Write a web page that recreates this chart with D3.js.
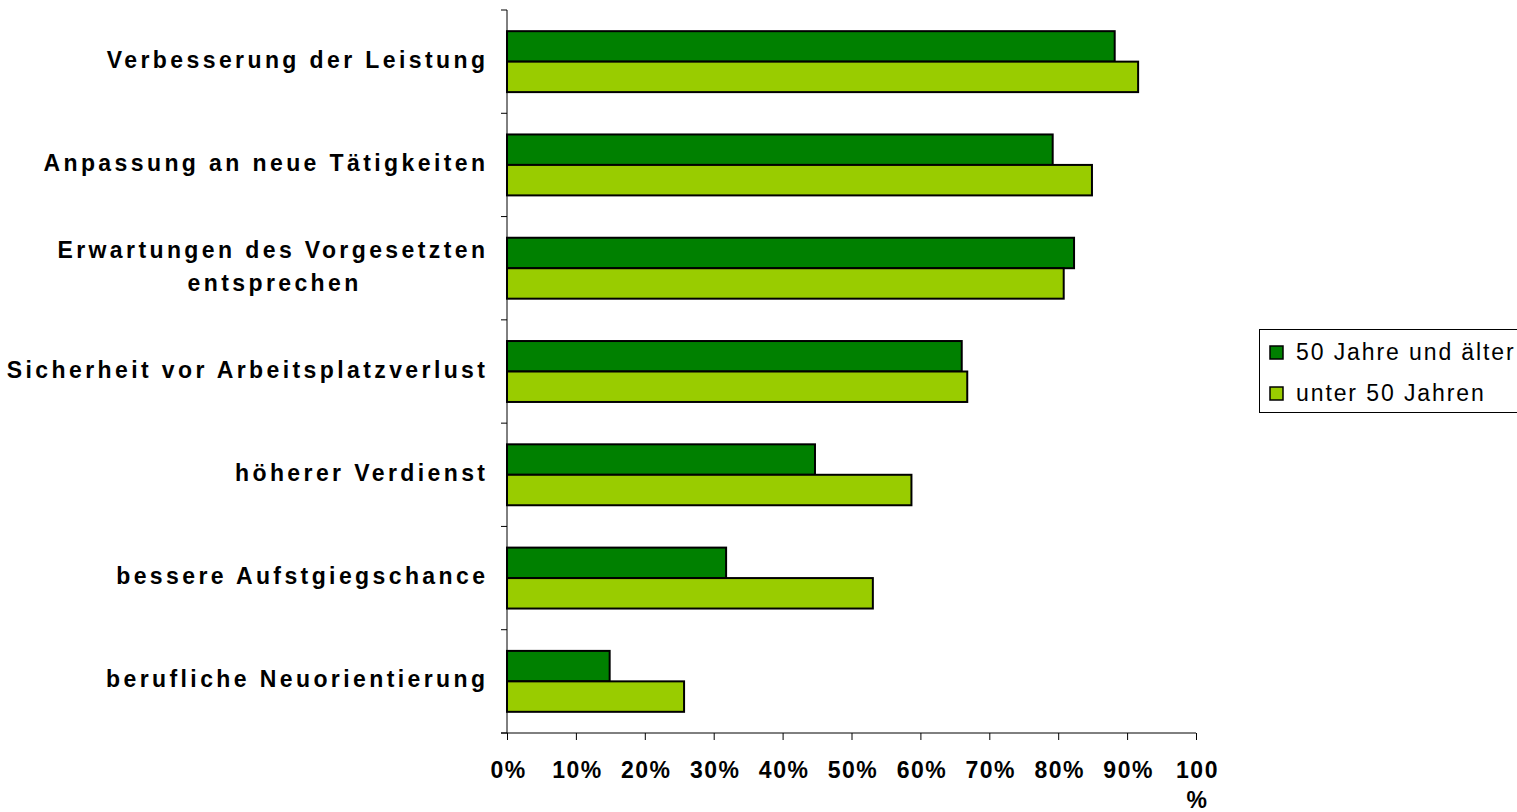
<!DOCTYPE html>
<html>
<head>
<meta charset="utf-8">
<script src="https://cdn.jsdelivr.net/npm/d3@7"></script>
<style>
  html, body { margin: 0; padding: 0; background: #fff; }
  svg { display: block; }
</style>
</head>
<body>
<svg id="chart" width="1517" height="812"></svg>
<script>
// Motive für Weiterbildung, nach Altersgruppe (Anteil in %)
const categories = [
  ["Verbesserung der Leistung"],
  ["Anpassung an neue Tätigkeiten"],
  ["Erwartungen des Vorgesetzten", "entsprechen"],
  ["Sicherheit vor Arbeitsplatzverlust"],
  ["höherer Verdienst"],
  ["bessere Aufstgiegschance"],
  ["berufliche Neuorientierung"]
];
const seriesNames = ["50 Jahre und älter", "unter 50 Jahren"];
const valuesOlder   = [88.2, 79.2, 82.3, 66.0, 44.7, 31.8, 14.9];
const valuesYounger = [91.6, 84.9, 80.8, 66.8, 58.7, 53.1, 25.7];
const xTicks = [0, 10, 20, 30, 40, 50, 60, 70, 80, 90, 100];
const xTickLabels = ["0%", "10%", "20%", "30%", "40%", "50%", "60%", "70%", "80%", "90%", "100%"];
const colors = ["#008000", "#99CC00"];

const FONT = "'Liberation Sans', Arial, Helvetica, sans-serif";
const svg = d3.select("#chart");

const plot = { left: 507, right: 1196, top: 10, bottom: 733 };

const x = d3.scaleLinear().domain([0, 100]).range([plot.left, plot.right]);
const y = d3.scaleBand()
  .domain(d3.range(categories.length))
  .range([plot.top, plot.bottom])
  .paddingInner(0).paddingOuter(0);
const inner = d3.scaleBand()
  .domain([0, 1])
  .range([0, y.bandwidth()])
  .paddingOuter(0.695).paddingInner(0);

const series = [valuesOlder, valuesYounger];

// Bars
const g = svg.append("g");
series.forEach((vals, si) => {
  g.selectAll(null)
    .data(vals)
    .enter()
    .append("rect")
    .attr("x", x(0))
    .attr("y", (d, i) => y(i) + inner(si))
    .attr("width", d => x(d) - x(0))
    .attr("height", inner.bandwidth())
    .attr("fill", colors[si])
    .attr("stroke", "#000")
    .attr("stroke-width", 2);
});

// Y axis: line with ticks at category boundaries
const yAxisG = svg.append("g");
yAxisG.append("line")
  .attr("x1", plot.left).attr("x2", plot.left)
  .attr("y1", plot.top).attr("y2", plot.bottom)
  .attr("stroke", "#000").attr("stroke-width", 1);
const boundaries = d3.range(categories.length + 1).map(i => plot.top + i * y.step());
yAxisG.selectAll(null).data(boundaries).enter().append("line")
  .attr("x1", plot.left - 6).attr("x2", plot.left)
  .attr("y1", d => d).attr("y2", d => d)
  .attr("stroke", "#000").attr("stroke-width", 1);

// Category labels
const LS = 3.4;
const labelG = svg.append("g")
  .attr("font-family", FONT)
  .attr("font-size", 23)
  .attr("font-weight", "bold")
  .attr("letter-spacing", LS)
  .attr("fill", "#000");
const labelEnd = 485 + LS;
categories.forEach((lines, i) => {
  const cy = y(i) + y.bandwidth() / 2;
  if (lines.length === 1) {
    labelG.append("text")
      .attr("x", labelEnd)
      .attr("y", cy + 6)
      .attr("text-anchor", "end")
      .text(lines[0]);
  } else {
    const t1 = labelG.append("text")
      .attr("x", labelEnd)
      .attr("y", cy + 6 - 16.6)
      .attr("text-anchor", "end")
      .text(lines[0]);
    const w = t1.node().getComputedTextLength();
    labelG.append("text")
      .attr("x", labelEnd - w / 2 + LS / 2)
      .attr("y", cy + 6 + 16.6)
      .attr("text-anchor", "middle")
      .text(lines[1]);
  }
});

// X axis
const xAxis = d3.axisBottom(x)
  .tickValues(xTicks)
  .tickSize(7)
  .tickSizeOuter(0)
  .tickFormat((d, i) => xTickLabels[i]);
const xAxisG = svg.append("g")
  .attr("transform", `translate(0,${plot.bottom})`)
  .call(xAxis);
xAxisG.select(".domain").remove();
xAxisG.append("line")
  .attr("x1", plot.left - 6).attr("x2", plot.right)
  .attr("y1", 0).attr("y2", 0)
  .attr("stroke", "#000").attr("stroke-width", 1);
xAxisG.selectAll(".tick line").attr("stroke", "#000");
xAxisG.selectAll(".tick text")
  .attr("font-family", FONT)
  .attr("font-size", 23)
  .attr("font-weight", "bold")
  .attr("fill", "#000")
  .attr("letter-spacing", 1.5)
  .attr("y", 0)
  .attr("dy", null)
  .each(function(d, i) {
    const label = xTickLabels[i];
    const sel = d3.select(this).text(null);
    // the last label does not fit on one line and wraps before the percent sign
    const parts = d === 100 ? [label.slice(0, -1), "%"] : [label];
    parts.forEach((p, k) => {
      sel.append("tspan")
        .attr("x", 1)
        .attr("y", 45 + k * 30)
        .text(p);
    });
  });

// Legend
const legend = svg.append("g").attr("font-family", FONT).attr("font-size", 23).attr("letter-spacing", 1.9);
legend.append("rect")
  .attr("x", 1259.5).attr("y", 329.5)
  .attr("width", 270).attr("height", 83)
  .attr("fill", "#fff").attr("stroke", "#000").attr("stroke-width", 1);
seriesNames.forEach((name, i) => {
  const ry = 346 + i * 41;
  legend.append("rect")
    .attr("x", 1270).attr("y", ry)
    .attr("width", 13).attr("height", 13)
    .attr("fill", colors[i]).attr("stroke", "#000").attr("stroke-width", 1.5);
  legend.append("text")
    .attr("x", 1296).attr("y", ry + 14)
    .attr("fill", "#000")
    .text(name);
});
</script>
</body>
</html>
